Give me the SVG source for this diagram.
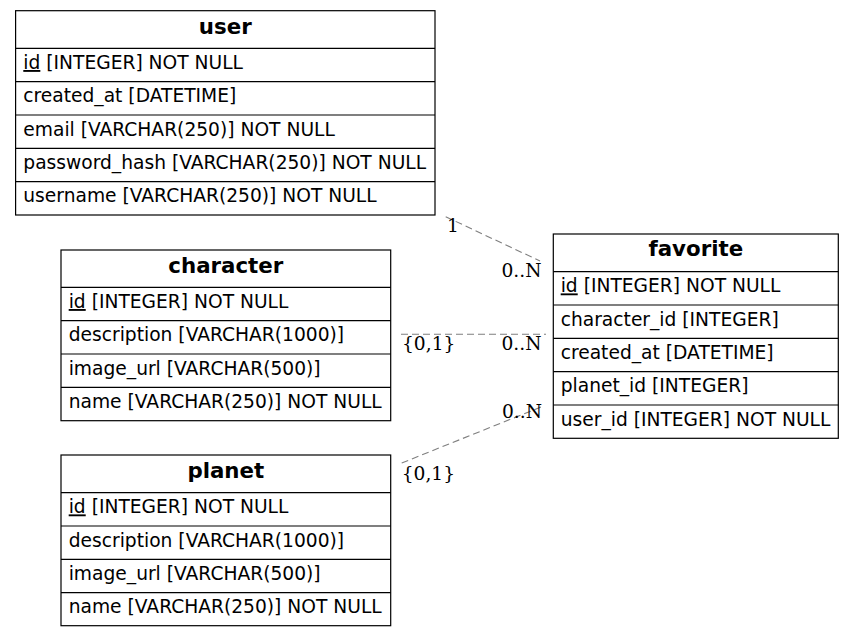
<svg xmlns="http://www.w3.org/2000/svg" width="855" height="637" viewBox="0 0 855 637">
<style>
.box{fill:#fff;stroke:#000;stroke-width:1.2}
.sep{stroke:#000;stroke-width:1.2}
.h{font-family:"DejaVu Sans",sans-serif;font-weight:bold;font-size:21.33px;text-anchor:middle;fill:#000}
.t{font-family:"DejaVu Sans",sans-serif;font-size:18.67px;fill:#000}
.u{text-decoration:underline}
.lbl{font-family:"DejaVu Serif",serif;font-size:18.67px;fill:#000}
.edge{stroke:#7f7f7f;stroke-width:1.1;stroke-dasharray:7,4;fill:none}
</style>
<rect width="855" height="637" fill="#fff"/>
<g id="edges">
<line class="edge" x1="445.7" y1="216.7" x2="540" y2="261"/>
<line class="edge" x1="401" y1="334.3" x2="546" y2="334.3"/>
<line class="edge" x1="401.7" y1="463" x2="541" y2="407"/>
<text class="lbl" x="447" y="231.5">1</text>
<text class="lbl" x="501.5" y="277">0..N</text>
<text class="lbl" x="402" y="350">{0,1}</text>
<text class="lbl" x="501.5" y="350">0..N</text>
<text class="lbl" x="502" y="417.5">0..N</text>
<text class="lbl" x="401.7" y="480">{0,1}</text>
</g>
<g id="user">
<rect class="box" x="15.6" y="10.7" width="419.4" height="204.3"/>
<line class="sep" x1="15.6" y1="48.3" x2="435" y2="48.3"/>
<line class="sep" x1="15.6" y1="81.6" x2="435" y2="81.6"/>
<line class="sep" x1="15.6" y1="115" x2="435" y2="115"/>
<line class="sep" x1="15.6" y1="148.3" x2="435" y2="148.3"/>
<line class="sep" x1="15.6" y1="181.7" x2="435" y2="181.7"/>
<text class="h" x="225.3" y="33.5">user</text>
<text class="t" x="23.3" y="69"><tspan class="u">id</tspan> [INTEGER] NOT NULL</text>
<text class="t" x="23.3" y="102.3">created_at [DATETIME]</text>
<text class="t" x="23.3" y="135.7">email [VARCHAR(250)] NOT NULL</text>
<text class="t" x="23.3" y="169">password_hash [VARCHAR(250)] NOT NULL</text>
<text class="t" x="23.3" y="202.3">username [VARCHAR(250)] NOT NULL</text>
</g>
<g id="character">
<rect class="box" x="61" y="250" width="329.7" height="170.7"/>
<line class="sep" x1="61" y1="287.3" x2="390.7" y2="287.3"/>
<line class="sep" x1="61" y1="320.7" x2="390.7" y2="320.7"/>
<line class="sep" x1="61" y1="354" x2="390.7" y2="354"/>
<line class="sep" x1="61" y1="387.3" x2="390.7" y2="387.3"/>
<text class="h" x="225.8" y="272.5">character</text>
<text class="t" x="68.7" y="308"><tspan class="u">id</tspan> [INTEGER] NOT NULL</text>
<text class="t" x="68.7" y="341.4">description [VARCHAR(1000)]</text>
<text class="t" x="68.7" y="374.7">image_url [VARCHAR(500)]</text>
<text class="t" x="68.7" y="408">name [VARCHAR(250)] NOT NULL</text>
</g>
<g id="planet">
<rect class="box" x="61" y="455" width="329.7" height="170.7"/>
<line class="sep" x1="61" y1="492.7" x2="390.7" y2="492.7"/>
<line class="sep" x1="61" y1="526" x2="390.7" y2="526"/>
<line class="sep" x1="61" y1="559.3" x2="390.7" y2="559.3"/>
<line class="sep" x1="61" y1="592.7" x2="390.7" y2="592.7"/>
<text class="h" x="225.8" y="477.5">planet</text>
<text class="t" x="68.7" y="513.4"><tspan class="u">id</tspan> [INTEGER] NOT NULL</text>
<text class="t" x="68.7" y="546.7">description [VARCHAR(1000)]</text>
<text class="t" x="68.7" y="580">image_url [VARCHAR(500)]</text>
<text class="t" x="68.7" y="613.4">name [VARCHAR(250)] NOT NULL</text>
</g>
<g id="favorite">
<rect class="box" x="553.3" y="234" width="285" height="204.3"/>
<line class="sep" x1="553.3" y1="271.7" x2="838.3" y2="271.7"/>
<line class="sep" x1="553.3" y1="305" x2="838.3" y2="305"/>
<line class="sep" x1="553.3" y1="338.3" x2="838.3" y2="338.3"/>
<line class="sep" x1="553.3" y1="371.7" x2="838.3" y2="371.7"/>
<line class="sep" x1="553.3" y1="405" x2="838.3" y2="405"/>
<text class="h" x="695.8" y="256">favorite</text>
<text class="t" x="560.7" y="292.4"><tspan class="u">id</tspan> [INTEGER] NOT NULL</text>
<text class="t" x="560.7" y="325.7">character_id [INTEGER]</text>
<text class="t" x="560.7" y="359">created_at [DATETIME]</text>
<text class="t" x="560.7" y="392.4">planet_id [INTEGER]</text>
<text class="t" x="560.7" y="425.7">user_id [INTEGER] NOT NULL</text>
</g>
</svg>
